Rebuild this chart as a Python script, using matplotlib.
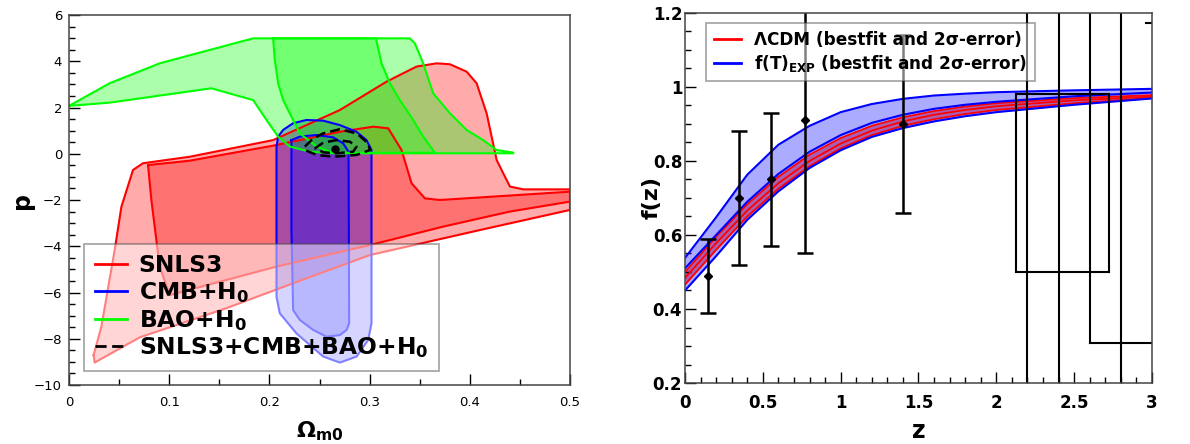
import matplotlib
matplotlib.use("Agg")
import matplotlib.pyplot as plt
from matplotlib.lines import Line2D

# ---------------- left panel: contours in (Omega_m0, p) ----------------
snls_out_x = [0.0246, 0.0323, 0.0456, 0.0523, 0.0639, 0.0739, 0.1205, 0.2037, 0.237, 0.2703,
              0.317, 0.3469, 0.3668, 0.3802, 0.3968, 0.4068, 0.4168, 0.4268, 0.4334, 0.4401,
              0.4534, 0.5, 0.5, 0.41, 0.3003, 0.2237, 0.157, 0.0706, 0.0256]
snls_out_p = [-8.70, -7.48, -4.16, -2.29, -0.70, -0.41, -0.13, 0.59, 1.24, 1.89,
              3.12, 3.77, 3.91, 3.87, 3.55, 3.05, 1.75, -0.27, -0.85, -1.42,
              -1.54, -1.54, -2.43, -3.30, -4.38, -5.60, -6.68, -7.94, -9.03]

snls_in_x = [0.0789, 0.0822, 0.0905, 0.1005, 0.207, 0.3003, 0.3735, 0.4401, 0.5, 0.5,
             0.3702, 0.3552, 0.3419, 0.3319, 0.3186, 0.3036, 0.2703, 0.2037, 0.1205]
snls_in_p = [-0.49, -2.0, -4.88, -6.11, -4.88, -3.95, -3.15, -2.50, -2.07, -1.64,
             -2.0, -1.93, -1.28, 0.16, 1.10, 1.17, 0.95, 0.35, -0.30]

cmb_out_x = [0.2087, 0.2137, 0.2237, 0.237, 0.2537, 0.2703, 0.287, 0.2969, 0.3019, 0.3019,
             0.2986, 0.287, 0.2703, 0.2537, 0.227, 0.2104, 0.2071, 0.2071]
cmb_out_p = [0.74, 1.03, 1.32, 1.46, 1.43, 1.24, 0.95, 0.59, 0.16, -7.33,
             -8.05, -8.77, -9.03, -8.77, -7.77, -6.90, -6.18, 0.31]

cmb_in_x = [0.222, 0.2304, 0.247, 0.2636, 0.2736, 0.279, 0.2796, 0.277, 0.2703, 0.257,
            0.2437, 0.2304, 0.2237, 0.222]
cmb_in_p = [0.59, 0.74, 0.81, 0.71, 0.45, 0.09, -7.33, -7.62, -7.84, -7.91,
            -7.62, -7.19, -6.76, -3.30]

bao_out_x = [0.0, 0.0406, 0.0905, 0.1405, 0.1838, 0.3402, 0.3452, 0.3535, 0.3635, 0.3802,
             0.3968, 0.4134, 0.4268, 0.4434, 0.4434, 0.2636, 0.2403, 0.2204, 0.2087, 0.1971,
             0.1838, 0.1421, 0.0406]
bao_out_p = [2.07, 3.05, 3.91, 4.49, 4.99, 4.99, 4.77, 3.91, 2.61, 1.75,
             1.03, 0.59, 0.16, 0.05, 0.02, 0.02, 0.09, 0.31, 0.74, 1.46,
             2.32, 2.83, 2.21]

bao_in_x = [0.2037, 0.2054, 0.2087, 0.2137, 0.2304, 0.247, 0.2636, 0.3652, 0.3535, 0.3435,
            0.3302, 0.3202, 0.3119, 0.3063]
bao_in_p = [4.99, 4.05, 3.05, 2.32, 0.88, 0.31, 0.04, 0.04, 0.74, 1.46,
            2.32, 3.05, 3.91, 4.99]

all_out_x = [0.2354, 0.2437, 0.2537, 0.2703, 0.287, 0.2986, 0.3003, 0.287, 0.2636, 0.247, 0.2354]
all_out_p = [0.31, 0.66, 0.88, 1.06, 0.88, 0.45, 0.16, -0.05, -0.13, -0.05, 0.16]
all_in_x = [0.2453, 0.2537, 0.267, 0.2803, 0.287, 0.2836, 0.267, 0.2537]
all_in_p = [0.23, 0.48, 0.59, 0.52, 0.31, 0.09, 0.02, 0.06]
best_x, best_p = 0.265, 0.20

# ---------------- right panel: growth rate f(z) ----------------
z_grid = [0.0, 0.2, 0.4, 0.6, 0.8, 1.0, 1.2, 1.4, 1.6, 1.8, 2.0, 2.5, 3.0]
exp_up = [0.538, 0.648, 0.763, 0.844, 0.895, 0.932, 0.954, 0.968, 0.977, 0.982, 0.986, 0.991, 0.995]
exp_bf = [0.510, 0.600, 0.690, 0.765, 0.825, 0.870, 0.903, 0.925, 0.941, 0.952, 0.960, 0.975, 0.985]
exp_lo = [0.450, 0.543, 0.641, 0.718, 0.781, 0.829, 0.865, 0.889, 0.907, 0.921, 0.932, 0.952, 0.969]
lcdm_up = [0.500, 0.595, 0.683, 0.757, 0.817, 0.862, 0.895, 0.918, 0.935, 0.947, 0.956, 0.970, 0.978]
lcdm_bf = [0.484, 0.578, 0.666, 0.740, 0.800, 0.847, 0.882, 0.907, 0.925, 0.938, 0.948, 0.964, 0.974]
lcdm_lo = [0.466, 0.560, 0.650, 0.725, 0.786, 0.834, 0.870, 0.895, 0.913, 0.927, 0.938, 0.956, 0.970]

obs_z = [0.15, 0.35, 0.55, 0.77, 1.40]
obs_f = [0.49, 0.70, 0.75, 0.91, 0.90]
obs_err = [0.10, 0.18, 0.18, 0.36, 0.24]

# high-z bars (z0, f0, z1, f1)
seg_z0 = [2.20, 2.40, 2.80, 2.60, 2.60, 2.124, 2.724, 2.124, 2.124, 2.96]
seg_f0 = [0.0, 0.0, 0.0, 0.308, 0.308, 0.499, 0.499, 0.499, 0.981, 1.173]
seg_z1 = [2.20, 2.40, 2.80, 2.60, 3.00, 2.124, 2.724, 2.724, 2.724, 3.00]
seg_f1 = [1.5, 1.5, 1.5, 1.5, 0.308, 0.981, 0.981, 0.499, 0.981, 1.173]

RED, BLUE, GREEN = "#ff0000", "#0000ff", "#00ff00"
FILL_A = 0.33

fig = plt.figure(figsize=(11.9, 4.44), dpi=100)
ax1 = fig.add_axes([69 / 1190, 1 - 385 / 444, 501 / 1190, 370 / 444])
ax2 = fig.add_axes([685 / 1190, 1 - 383 / 444, 467 / 1190, 370 / 444])

# left panel
for xs, ps, col in [(snls_out_x, snls_out_p, RED), (snls_in_x, snls_in_p, RED),
                    (cmb_out_x, cmb_out_p, BLUE), (cmb_in_x, cmb_in_p, BLUE),
                    (bao_out_x, bao_out_p, GREEN), (bao_in_x, bao_in_p, GREEN)]:
    ax1.fill(xs, ps, facecolor=col, alpha=FILL_A, edgecolor="none")
    ax1.plot(xs + xs[:1], ps + ps[:1], color=col, lw=1.5)

ax1.plot(all_out_x + all_out_x[:1], all_out_p + all_out_p[:1], color="k", lw=1.8, ls=(0, (4, 2)))
ax1.plot(all_in_x + all_in_x[:1], all_in_p + all_in_p[:1], color="k", lw=1.8, ls=(0, (4, 2)))
ax1.plot([best_x], [best_p], "o", color="k", ms=5)

ax1.set_xlim(0, 0.5)
ax1.set_ylim(-10, 6)
ax1.set_xticks([0, 0.1, 0.2, 0.3, 0.4, 0.5])
ax1.set_xticklabels(["0", "0.1", "0.2", "0.3", "0.4", "0.5"])
ax1.set_xticks([0.05, 0.15, 0.25, 0.35, 0.45], minor=True)
ax1.set_yticks(range(-10, 7, 2))
ax1.set_yticklabels(["\u221210", "\u22128", "\u22126", "\u22124", "\u22122", "0", "2", "4", "6"])
ax1.set_yticks([v / 2 for v in range(-20, 13) if v % 4], minor=True)
ax1.tick_params(which="both", direction="in", top=False, right=False, labelsize=9.5, width=1)
ax1.tick_params(which="major", length=8)
ax1.tick_params(which="minor", length=4.5)
ax1.tick_params(axis="x", which="major", pad=8)
ax1.tick_params(axis="y", which="major", pad=5)
ax1.set_xlabel("\u03a9$_{\\mathbf{m0}}$", fontsize=16, fontweight="bold")
ax1.xaxis.set_label_coords(0.5, -0.092)
ax1.set_ylabel("p", fontsize=17, fontweight="bold")
ax1.yaxis.set_label_coords(-0.07, 0.5)

handles1 = [Line2D([], [], color=RED, lw=2), Line2D([], [], color=BLUE, lw=2),
            Line2D([], [], color=GREEN, lw=2), Line2D([], [], color="k", lw=2, ls=(0, (4, 2)))]
labels1 = ["SNLS3", "CMB+H$_\\mathbf{0}$", "BAO+H$_\\mathbf{0}$", "SNLS3+CMB+BAO+H$_\\mathbf{0}$"]
leg1 = ax1.legend(handles1, labels1, loc="lower left", bbox_to_anchor=(0.03, 0.038),
                  borderaxespad=0, prop={"weight": "bold", "size": 16.8}, handlelength=1.4,
                  handletextpad=0.5, fancybox=False, framealpha=0.5, edgecolor="#444444",
                  labelspacing=0.12, borderpad=0.45)
leg1.get_frame().set_linewidth(1.2)
leg1.set_zorder(10)

# right panel
ax2.fill_between(z_grid, lcdm_lo, lcdm_up, color=RED, alpha=0.45, lw=0)
for arr in (lcdm_up, lcdm_bf, lcdm_lo):
    ax2.plot(z_grid, arr, color=RED, lw=1.3)
ax2.fill_between(z_grid, exp_lo, exp_up, color=BLUE, alpha=FILL_A, lw=0)
for arr in (exp_up, exp_bf, exp_lo):
    ax2.plot(z_grid, arr, color=BLUE, lw=1.5)

ax2.errorbar(obs_z, obs_f, yerr=obs_err, fmt="D", color="k", ms=4, lw=1.8,
             capsize=6, capthick=1.8)
for a, b, c, d in zip(seg_z0, seg_f0, seg_z1, seg_f1):
    ax2.plot([a, c], [b, d], color="k", lw=1.5)

ax2.set_xlim(0, 3)
ax2.set_ylim(0.2, 1.2)
ax2.set_xticks([0, 0.5, 1, 1.5, 2, 2.5, 3])
ax2.set_xticklabels(["0", "0.5", "1", "1.5", "2", "2.5", "3"])
ax2.set_xticks([i / 10 for i in range(31) if i % 5], minor=True)
ax2.set_yticks([0.2, 0.4, 0.6, 0.8, 1.0, 1.2])
ax2.set_yticklabels(["0.2", "0.4", "0.6", "0.8", "1", "1.2"])
ax2.set_yticks([i / 20 for i in range(4, 25) if i % 4], minor=True)
ax2.tick_params(which="both", direction="in", top=False, right=False, labelsize=12, width=1)
ax2.tick_params(which="major", length=8)
ax2.tick_params(which="minor", length=4.5)
ax2.tick_params(axis="x", which="major", pad=8)
ax2.tick_params(axis="y", which="major", pad=2)
for lab in ax2.get_xticklabels() + ax2.get_yticklabels():
    lab.set_fontweight("bold")
ax2.set_xlabel("z", fontsize=17, fontweight="bold")
ax2.xaxis.set_label_coords(0.5, -0.098)
ax2.set_ylabel("f(z)", fontsize=16, fontweight="bold")
ax2.yaxis.set_label_coords(-0.05, 0.5)

handles2 = [Line2D([], [], color=RED, lw=2), Line2D([], [], color=BLUE, lw=2)]
labels2 = ["\u039bCDM (bestfit and 2\u03c3-error)", "f(T)$_{\\mathbf{EXP}}$ (bestfit and 2\u03c3-error)"]
leg2 = ax2.legend(handles2, labels2, loc="upper left", bbox_to_anchor=(0.045, 0.973),
                  borderaxespad=0, prop={"weight": "bold", "size": 12.2}, handlelength=1.6,
                  fancybox=False, framealpha=0.5, edgecolor="#444444", labelspacing=0.25,
                  borderpad=0.45)
leg2.get_frame().set_linewidth(1.2)
leg2.set_zorder(10)

for ax in (ax1, ax2):
    for sp in ax.spines.values():
        sp.set_color("#444444")
        sp.set_linewidth(1.1)

fig.savefig("out.png", dpi=100)
